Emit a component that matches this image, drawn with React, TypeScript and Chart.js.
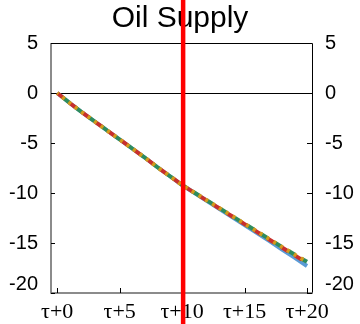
import { useEffect, useRef } from 'react';
import { Chart, registerables } from 'chart.js';

Chart.register(...registerables);

const titleText = 'Oil Supply';
const periods = [0, 1, 2, 3, 4, 5, 6, 7, 8, 9, 10, 11, 12, 13, 14, 15, 16, 17, 18, 19, 20];
const xTickValues = [0, 5, 10, 15, 20];
const yTickValues = [5, 0, -5, -10, -15, -20];
const blueSeries = [0, -1.0, -1.95, -2.85, -3.75, -4.65, -5.55, -6.45, -7.4, -8.3, -9.2, -10.0, -10.8, -11.6, -12.4, -13.2, -14.0, -14.8, -15.65, -16.45, -17.3];
const redSeries = [0, -1.0, -1.95, -2.85, -3.75, -4.65, -5.55, -6.45, -7.4, -8.3, -9.2, -9.99, -10.77, -11.55, -12.33, -13.11, -13.89, -14.67, -15.45, -16.22, -17.0];
const greenSeries = [0, -1.0, -1.95, -2.85, -3.75, -4.65, -5.55, -6.45, -7.4, -8.3, -9.2, -9.98, -10.75, -11.52, -12.3, -13.08, -13.85, -14.62, -15.4, -16.15, -16.88];
const orangeSeries = [0, -1.0, -1.95, -2.85, -3.75, -4.65, -5.55, -6.45, -7.4, -8.3, -9.2, -9.98, -10.75, -11.52, -12.3, -13.08, -13.85, -14.62, -15.4, -16.15, -16.88];
const markerPeriod = 10;

const toPoints = (vals: number[]) => periods.map((p, i) => ({ x: p, y: vals[i] }));

const decor = {
  id: 'decor',
  beforeDatasetsDraw(chart: any) {
    const { ctx, chartArea: a, scales } = chart;
    ctx.save();
    const y0 = Math.round(scales.y.getPixelForValue(0)) + 0.5;
    ctx.strokeStyle = '#000';
    ctx.lineWidth = 1;
    ctx.beginPath();
    ctx.moveTo(a.left, y0);
    ctx.lineTo(a.right, y0);
    ctx.stroke();
    ctx.beginPath();
    ctx.moveTo(a.left, Math.round(a.top) + 0.5);
    ctx.lineTo(Math.round(a.right) + 0.5, Math.round(a.top) + 0.5);
    ctx.lineTo(Math.round(a.right) + 0.5, Math.round(a.bottom));
    ctx.stroke();
    ctx.strokeStyle = '#666';
    ctx.lineWidth = 1.5;
    ctx.beginPath();
    ctx.moveTo(Math.round(a.left), Math.round(a.top));
    ctx.lineTo(Math.round(a.left), Math.round(a.bottom));
    ctx.lineTo(Math.round(a.right) + 1, Math.round(a.bottom));
    ctx.stroke();
    ctx.strokeStyle = '#000';
    ctx.lineWidth = 1;
    ctx.beginPath();
    yTickValues.forEach((v) => {
      const py = Math.round(scales.y.getPixelForValue(v)) + 0.5;
      ctx.moveTo(a.left, py);
      ctx.lineTo(a.left + 4, py);
      ctx.moveTo(a.right, py);
      ctx.lineTo(a.right - 5, py);
    });
    xTickValues.forEach((v) => {
      const px = Math.round(scales.x.getPixelForValue(v)) + 0.5;
      ctx.moveTo(px, a.bottom);
      ctx.lineTo(px, a.bottom - 5);
    });
    ctx.stroke();
    ctx.restore();
  },
  afterDraw(chart: any) {
    const { ctx, scales } = chart;
    const px = scales.x.getPixelForValue(markerPeriod) + 1;
    ctx.save();
    ctx.strokeStyle = '#ff0000';
    ctx.lineWidth = 4.5;
    ctx.beginPath();
    ctx.moveTo(px, 0);
    ctx.lineTo(px, chart.height);
    ctx.stroke();
    ctx.restore();
  },
};

export default function App() {
  const ref = useRef<HTMLCanvasElement>(null);
  useEffect(() => {
    if (!ref.current) return;
    const yTicksCfg = {
      stepSize: 5,
      padding: 13,
      color: '#000',
      font: { family: "'Liberation Sans', Arial, sans-serif", size: 20, lineHeight: 0.9 },
      callback: (v: any) => (v === -20 ? ['-20', ''] : String(v)),
    };
    const chart = new Chart(ref.current, {
      type: 'line',
      data: {
        datasets: [
          { label: 'orange', data: toPoints(orangeSeries), borderColor: '#d39a1c', borderWidth: 4, borderDash: [3, 5], borderDashOffset: 1.5, pointRadius: 0, tension: 0, borderCapStyle: 'butt' },
          { label: 'green', data: toPoints(greenSeries), borderColor: '#2f8c5c', borderWidth: 4, borderDash: [8, 8], borderDashOffset: 8, pointRadius: 0, tension: 0, borderCapStyle: 'butt' },
          { label: 'red', data: toPoints(redSeries), borderColor: '#c8302c', borderWidth: 4, borderDash: [8, 8], borderDashOffset: 0, pointRadius: 0, tension: 0, borderCapStyle: 'butt' },
          { label: 'blue', data: toPoints(blueSeries), borderColor: '#5a9bd6', borderWidth: 4, pointRadius: 0, tension: 0 },
        ],
      },
      options: {
        animation: false,
        responsive: false,
        maintainAspectRatio: false,
        layout: { padding: 0 },
        plugins: {
          legend: { display: false },
          tooltip: { enabled: false },
          title: {
            display: true,
            text: titleText,
            color: '#000',
            font: { family: "'Liberation Sans', Arial, sans-serif", size: 30, weight: 'normal', lineHeight: 1.0 },
            padding: { top: 4, bottom: 9 },
          },
        },
        scales: {
          x: {
            type: 'linear',
            min: -0.5,
            max: 20.4,
            grid: { display: false, drawTicks: false },
            border: { display: false },
            afterBuildTicks: (s: any) => {
              s.ticks = xTickValues.map((v) => ({ value: v }));
            },
            afterFit: (s: any) => {
              s.height = 30;
            },
            ticks: {
              padding: 6,
              maxRotation: 0,
              autoSkip: false,
              color: '#000',
              font: { family: "'Liberation Serif', 'Times New Roman', serif", size: 22 },
              callback: (v: any) => 'τ+' + v,
            },
          },
          y: {
            position: 'left',
            min: -20,
            max: 5,
            grid: { display: false, drawTicks: false },
            border: { display: false },
            afterFit: (s: any) => {
              s.width = 51;
            },
            ticks: yTicksCfg,
          },
          y2: {
            position: 'right',
            min: -20,
            max: 5,
            grid: { display: false, drawTicks: false },
            border: { display: false },
            afterFit: (s: any) => {
              s.width = 48;
            },
            ticks: yTicksCfg,
          },
        },
      } as any,
      plugins: [decor],
    });
    return () => chart.destroy();
  }, []);
  return (
    <div style={{ position: 'absolute', left: 0, top: 0, width: 360, height: 324, background: '#fff' }}>
      <canvas ref={ref} width={360} height={324} style={{ display: 'block' }} />
    </div>
  );
}
